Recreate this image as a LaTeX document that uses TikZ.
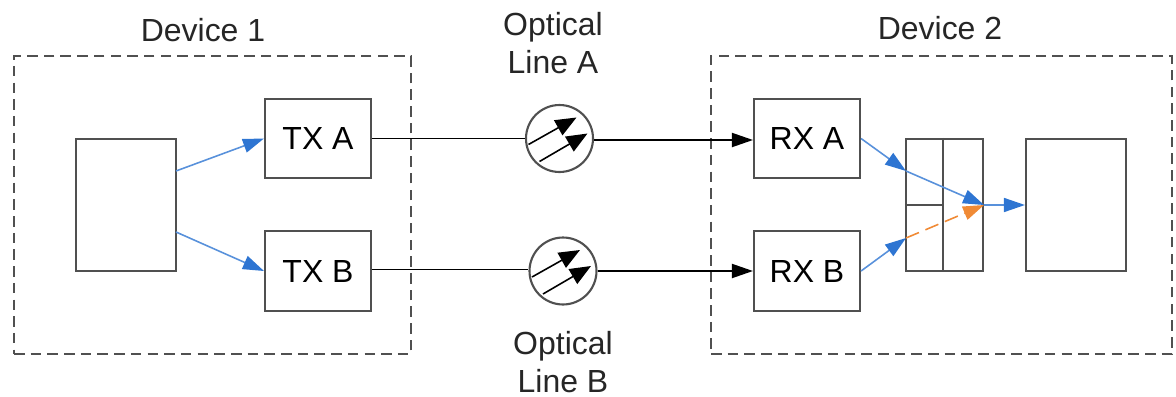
\documentclass[tikz,border=0pt]{standalone}
\usepackage{fontspec}
\setmainfont{Liberation Sans}
\usepackage{tikz}
\usetikzlibrary{arrows.meta}
\definecolor{linkblue}{HTML}{2E75D2}
\definecolor{linkorange}{HTML}{F08A35}
\definecolor{boxgray}{HTML}{505050}
\tikzset{
  unit/.style={draw=boxgray, line width=1.2pt, minimum width=2.12cm, minimum height=1.59cm, inner sep=0pt, font=\fontsize{18.2}{21}\selectfont},
  block/.style={draw=boxgray, line width=1.2pt, minimum width=2cm, minimum height=2.64cm, inner sep=0pt},
  device/.style={draw=boxgray, line width=1.2pt, dash pattern=on 6pt off 3.5pt, inner sep=0pt},
  label/.style={align=center, inner sep=0pt, text=black!85, font=\fontsize{18.2}{22}\selectfont},
  fiber/.style={draw=boxgray, circle, line width=1.2pt, minimum size=1.34cm, inner sep=0pt},
  black link/.style={line width=1.1pt, -{Triangle[length=0.42cm,width=0.28cm]}},
  blue link/.style={draw=linkblue!80, line width=0.9pt, -{Triangle[length=0.42cm,width=0.28cm,color=linkblue]}},
  orange link/.style={draw=linkorange, line width=0.9pt, dash pattern=on 8pt off 4pt, -{Triangle[length=0.42cm,width=0.28cm,color=linkorange]}},
  ray/.style={line width=0.9pt, -{Triangle[length=0.42cm,width=0.34cm]}}
}
\begin{document}
\begin{tikzpicture}[x=0.02cm, y=-0.02cm]
  \useasboundingbox (0, 0) rectangle (1176, 396);

  % dashed outlines
  \node [device, minimum width=7.94cm, minimum height=5.96cm] (dev1) at (212.5, 205) {};
  \node [device, minimum width=9.22cm, minimum height=5.96cm] (dev2) at (941.5, 205) {};

  \node [label] (dev1label) at (203, 30) {Device 1};
  \node [label] (dev2label) at (940, 28) {Device 2};
  \node [label] (lineAlabel) at (553, 43) {Optical\\Line A};
  \node [label] (lineBlabel) at (563, 362) {Optical\\Line B};

  \node [block] (src) at (126, 205) {};
  \node [unit] (txA) at (318, 138.5) {TX A};
  \node [unit] (txB) at (318, 271) {TX B};
  \node [fiber] (lineA) at (559.5, 138.5) {};
  \node [fiber] (lineB) at (563, 271) {};
  \node [unit] (rxA) at (807, 138.5) {RX A};
  \node [unit] (rxB) at (807, 271) {RX B};
  \node [draw=boxgray, line width=1.2pt, minimum width=1.54cm, minimum height=2.64cm, inner sep=0pt] (mux) at (944.5, 205) {};
  \node [block] (sink) at (1076, 205) {};

  % inside the combiner
  \draw [boxgray, line width=1.2pt] (mux.north) ++(-1.5, 0) -- ++(0, 132);
  \draw [boxgray, line width=1.2pt] (mux.west) -- ++(37, 0);

  % rays inside the optical lines
  \foreach \line in {lineA, lineB} {
    \draw [ray] (\line.center) ++(-31, 6) -- ++(48, -27);
    \draw [ray] (\line.center) ++(-20, 23) -- ++(48, -28);
  }

  \coordinate (srcA) at (176, 171);
  \coordinate (srcB) at (176, 232);
  \coordinate (muxA) at (906, 171);
  \coordinate (muxB) at (906, 238);

  \draw [blue link] (srcA) -- (txA.west);
  \draw [blue link] (srcB) -- (txB.west);
  \draw [line width=1.1pt] (txA) -- (lineA);
  \draw [line width=1.1pt] ([yshift=0.03cm]txB.east) -- ([yshift=0.03cm]lineB.west);
  \draw [black link] ([yshift=-0.03cm]lineA.east) -- ([yshift=-0.03cm]rxA.west);
  \draw [black link] (lineB) -- (rxB);
  \draw [blue link] (rxA.east) -- (muxA);
  \draw [blue link] (rxB.east) -- (muxB);
  \draw [orange link] (muxB) -- (mux.east);
  \draw [blue link] (muxA) -- (mux.east);
  \draw [blue link] (mux.east) -- (sink.west);
\end{tikzpicture}
\end{document}
